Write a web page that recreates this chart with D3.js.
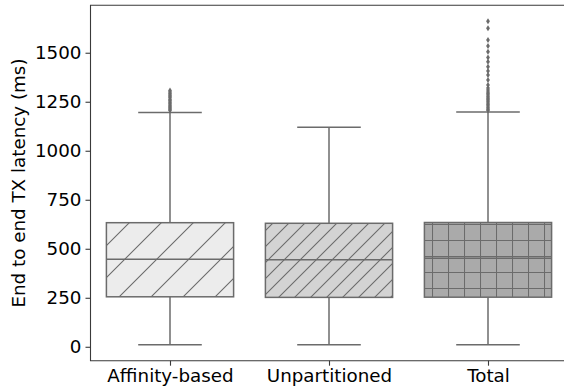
<!DOCTYPE html>
<html lang="en">
<head>
    <meta charset="UTF-8">
    <title>End to end TX latency</title>
    <script src="https://d3js.org/d3.v7.min.js"></script>
    <style>
        body { margin: 0; background: #fff; }
        text { font-family: "DejaVu Sans", sans-serif; fill: #000; }
    </style>
</head>
<body>
    <script>
        // Data
        const categories = ["Affinity-based", "Unpartitioned", "Total"];
        const q1 = [255, 252, 253];
        const median = [446, 444, 452];
        const q3 = [633, 630, 634];
        const whiskerLow = [10, 10, 10];
        const whiskerHigh = [1195, 1120, 1198];
        const outliers = [
            [1205, 1212, 1218, 1225, 1232, 1240, 1248, 1255, 1262, 1270, 1278, 1285, 1292, 1300, 1308],
            [],
            [1205, 1212, 1220, 1228, 1236, 1244, 1252, 1260, 1268, 1276, 1284, 1292, 1300, 1310, 1320, 1335,
             1361, 1386, 1407, 1429, 1454, 1476, 1505, 1534, 1565, 1625, 1660]
        ];
        const yTicks = [0, 250, 500, 750, 1000, 1250, 1500];

        const fills = ["#ececec", "#d3d3d3", "#aaaaaa"];
        const hatches = ["slash", "slash2", "grid"];
        const lineColor = "#6b6b6b";
        const fontSize = "18.3px";

        const width = 564, height = 392;
        const margin = { left: 90.5, top: 5.3, bottom: 31.3 };
        const svg = d3.select("body").append("svg")
            .attr("width", width)
            .attr("height", height);

        const x = d3.scaleLinear().domain([-0.5, 2.5]).range([margin.left, margin.left + 477]);
        const y = d3.scaleLinear().domain([-71, 1742]).range([height - margin.bottom, margin.top]);

        // hatch patterns
        const defs = svg.append("defs");
        function slashPattern(id, s) {
            const p = defs.append("pattern")
                .attr("id", id)
                .attr("patternUnits", "userSpaceOnUse")
                .attr("width", s).attr("height", s);
            p.append("path")
                .attr("d", `M0,${s} L${s},0 M${-s / 4},${s / 4} L${s / 4},${-s / 4} M${s * 3 / 4},${s * 5 / 4} L${s * 5 / 4},${s * 3 / 4}`)
                .attr("stroke", lineColor).attr("stroke-width", 1.1);
        }
        slashPattern("slash", 32);
        slashPattern("slash2", 16);
        const g = defs.append("pattern")
            .attr("id", "grid")
            .attr("patternUnits", "userSpaceOnUse")
            .attr("width", 16).attr("height", 16);
        g.append("path")
            .attr("d", "M0.5,0 V16 M0,0.5 H16")
            .attr("stroke", lineColor).attr("stroke-width", 1.1);

        const boxW = 0.8, capW = 0.4;

        categories.forEach((c, i) => {
            const grp = svg.append("g");
            // whiskers
            grp.append("line")
                .attr("x1", x(i)).attr("x2", x(i))
                .attr("y1", y(q3[i])).attr("y2", y(whiskerHigh[i]))
                .attr("stroke", lineColor).attr("stroke-width", 1.5);
            grp.append("line")
                .attr("x1", x(i)).attr("x2", x(i))
                .attr("y1", y(q1[i])).attr("y2", y(whiskerLow[i]))
                .attr("stroke", lineColor).attr("stroke-width", 1.5);
            [whiskerHigh[i], whiskerLow[i]].forEach(v => {
                grp.append("line")
                    .attr("x1", x(i - capW / 2)).attr("x2", x(i + capW / 2))
                    .attr("y1", y(v)).attr("y2", y(v))
                    .attr("stroke", lineColor).attr("stroke-width", 1.5);
            });
            // box
            const bx = x(i - boxW / 2), bw = x(i + boxW / 2) - bx;
            grp.append("rect")
                .attr("x", bx).attr("y", y(q3[i]))
                .attr("width", bw).attr("height", y(q1[i]) - y(q3[i]))
                .attr("fill", fills[i]);
            grp.append("rect")
                .attr("x", bx).attr("y", y(q3[i]))
                .attr("width", bw).attr("height", y(q1[i]) - y(q3[i]))
                .attr("fill", `url(#${hatches[i]})`)
                .attr("stroke", lineColor).attr("stroke-width", 1.5);
            grp.append("line")
                .attr("x1", bx).attr("x2", bx + bw)
                .attr("y1", y(median[i])).attr("y2", y(median[i]))
                .attr("stroke", lineColor).attr("stroke-width", 1.5);
            // outliers (thin diamonds)
            grp.selectAll("path.fl")
                .data(outliers[i])
                .enter().append("path")
                .attr("class", "fl")
                .attr("d", d => `M${x(i)},${y(d) - 3} L${x(i) + 1.9},${y(d)} L${x(i)},${y(d) + 3} L${x(i) - 1.9},${y(d)} Z`)
                .attr("fill", lineColor);
        });

        // spines
        const x0 = x(-0.5), x1 = x(2.5), yb = y(-71), yt = y(1742);
        svg.append("path")
            .attr("d", `M${x1},${yt} H${x0} V${yb} H${x1} V${yt}`)
            .attr("fill", "none").attr("stroke", "#3a3a3a").attr("stroke-width", 1.1);

        // y axis
        const yAxis = svg.append("g")
            .attr("transform", `translate(${x0},0)`)
            .call(d3.axisLeft(y).tickValues(yTicks).tickFormat(d3.format("d")).tickSize(5).tickPadding(4));
        yAxis.select(".domain").remove();
        yAxis.selectAll("line").attr("stroke", "#3a3a3a").attr("stroke-width", 1.1);
        yAxis.selectAll("text").attr("font-size", fontSize).attr("fill", "#000");

        // x axis
        const xAxis = svg.append("g")
            .attr("transform", `translate(0,${yb})`)
            .call(d3.axisBottom(x).tickValues([0, 1, 2]).tickFormat(i => categories[i]).tickSize(5).tickPadding(3));
        xAxis.select(".domain").remove();
        xAxis.selectAll("line").attr("stroke", "#3a3a3a").attr("stroke-width", 1.1);
        xAxis.selectAll("text").attr("font-size", fontSize).attr("fill", "#000");

        // y label
        svg.append("text")
            .attr("transform", `translate(25,${(yb + yt) / 2}) rotate(-90)`)
            .attr("text-anchor", "middle")
            .attr("font-size", fontSize)
            .text("End to end TX latency (ms)");
    </script>
</body>
</html>
